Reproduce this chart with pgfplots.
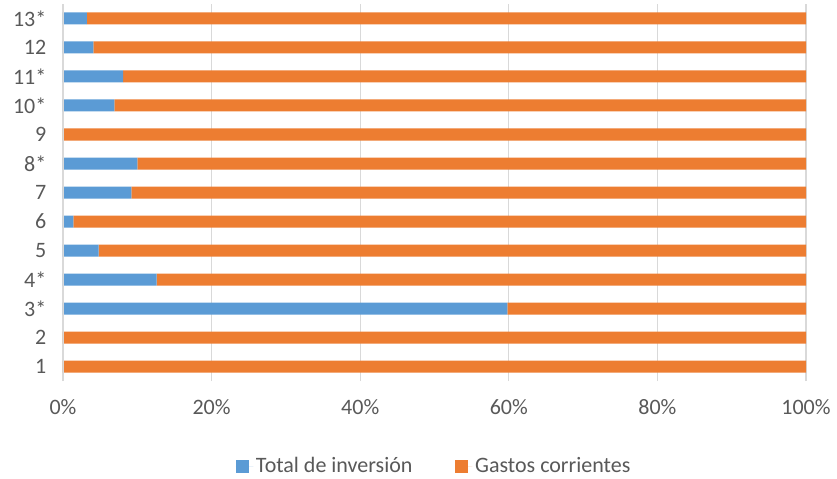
\documentclass[border=0pt]{standalone}
\usepackage{fontspec}
\setmainfont{Carlito}
\usepackage{pgfplots}
\pgfplotsset{compat=1.18}
\definecolor{inv}{HTML}{5B9BD5}
\definecolor{gas}{HTML}{ED7D31}
\definecolor{txt}{HTML}{595959}
\definecolor{grd}{HTML}{D9D9D9}
\begin{document}
\begin{tikzpicture}
\useasboundingbox (-47.25pt,-72.75pt) rectangle (580.5pt,285.75pt);
\begin{axis}[
    xbar stacked,
    scale only axis,
    width=557.25pt,
    height=282.75pt,
    bar width=9pt,
    xmin=0, xmax=100,
    ymin=0.5, ymax=13.5,
    ytick={1,...,13},
    yticklabels={1,2,3*,4*,5,6,7,8*,9,10*,11*,12,13*},
    xtick={0,20,40,60,80,100},
    xticklabels={0\%,20\%,40\%,60\%,80\%,100\%},
    tick style={draw=none},
    axis line style={draw=none},
    xmajorgrids,
    grid style={grd, line width=0.8pt},
    font=\fontsize{16.5}{19}\selectfont,
    ticklabel style={text=txt},
    xticklabel style={yshift=-10pt},
    yticklabel style={xshift=-9pt},
    legend style={at={(0.5,-0.226)}, anchor=center, draw=none, legend columns=2,
        font=\fontsize{16.5}{19}\selectfont, text=txt,
        /tikz/every even column/.append style={column sep=30pt}},
    legend image code/.code={\fill[#1] (0pt,-5pt) rectangle (10pt,5pt);
        \path (0pt,0pt) -- (13pt,0pt);},
]
\draw[grd, line width=1.2pt] (axis cs:0,0.5) -- (axis cs:0,13.5);
\addplot[fill=inv, draw=none] coordinates {
(0,1) (0,2) (59.8,3) (12.6,4) (4.8,5) (1.4,6) (9.2,7) (10.0,8) (0,9) (6.9,10) (8.1,11) (4.1,12) (3.2,13)};
\addplot[fill=gas, draw=none] coordinates {
(100,1) (100,2) (40.2,3) (87.4,4) (95.2,5) (98.6,6) (90.8,7) (90.0,8) (100,9) (93.1,10) (91.9,11) (95.9,12) (96.8,13)};
\legend{Total de inversión, Gastos corrientes}
\end{axis}
\end{tikzpicture}
\end{document}
